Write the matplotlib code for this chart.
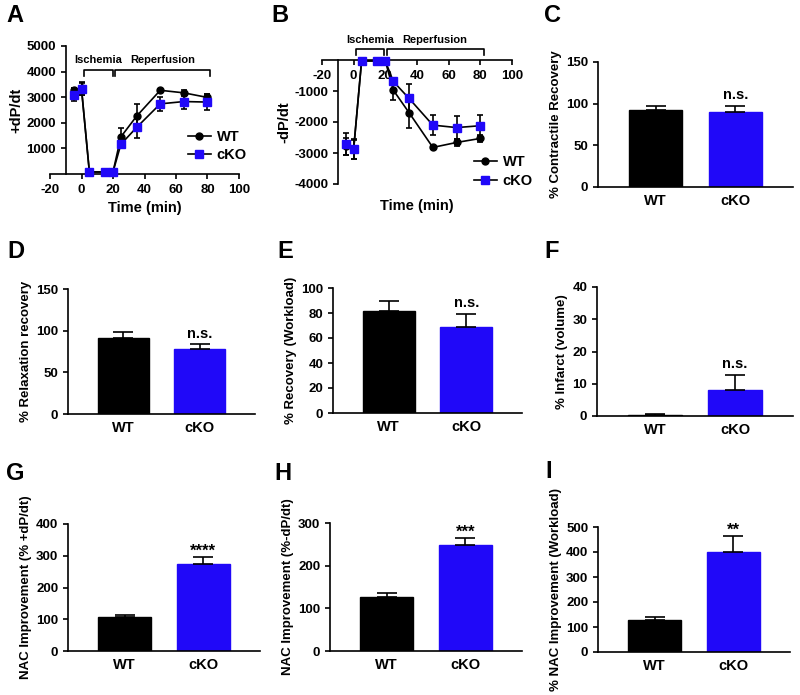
import matplotlib
matplotlib.use('Agg')
import matplotlib.pyplot as plt
from matplotlib.lines import Line2D
import numpy as np

plt.rcParams['font.family'] = ['Liberation Sans', 'DejaVu Sans']
plt.rcParams['font.weight'] = 'bold'
plt.rcParams['axes.labelweight'] = 'bold'
plt.rcParams['axes.unicode_minus'] = False
plt.rcParams['axes.linewidth'] = 1.2
plt.rcParams['xtick.major.width'] = 1.2
plt.rcParams['ytick.major.width'] = 1.2
plt.rcParams['xtick.major.size'] = 3.5
plt.rcParams['ytick.major.size'] = 3.5

BLUE = '#2008F8'

# Данные: время перфузии (мин) и dP/dt
time = [-5, 0, 5, 15, 20, 25, 35, 50, 65, 80]
a_wt = [3280, 3340, 80, 80, 80, 1450, 2260, 3270, 3170, 2990]
a_wt_err = [60, 240, 30, 30, 30, 330, 460, 60, 120, 120]
a_ko = [3100, 3320, 80, 80, 80, 1160, 1820, 2740, 2830, 2810]
a_ko_err = [250, 240, 30, 30, 30, 80, 400, 280, 310, 310]

b_wt = [-2790, -2860, -30, -30, -30, -970, -1700, -2820, -2660, -2530]
b_wt_err = [260, 320, 30, 30, 30, 320, 500, 60, 100, 100]
b_ko = [-2700, -2880, -30, -30, -30, -690, -1240, -2100, -2180, -2120]
b_ko_err = [350, 300, 30, 30, 30, 60, 450, 320, 370, 330]

# Столбчатые диаграммы
groups = ['WT', 'cKO']
c_vals, c_err = [92, 90], [5, 7]
d_vals, d_err = [91.5, 78], [6.5, 5.6]
e_vals, e_err = [82, 68.5], [7.5, 11]
f_vals, f_err = [0.3, 8.2], [0.2, 4.5]
g_vals, g_err = [107, 274], [7, 23]
h_vals, h_err = [127, 248], [9, 18]
i_vals, i_err = [128, 401], [13, 63]

W, H = 800, 695
fig = plt.figure(figsize=(W / 100, H / 100), dpi=100)


def rect(l, r, t, b):
    return [l / W, 1 - b / H, (r - l) / W, (b - t) / H]


def letter(x, y, s):
    fig.text(x / W, 1 - y / H, s, fontsize=17, fontweight='bold', ha='left', va='center')


def bracket(ax, x0, x1, y, drop, text, ty):
    ax.plot([x0, x0, x1, x1], [y - drop, y, y, y - drop], color='black', lw=1.2, clip_on=False)
    ax.text((x0 + x1) / 2, ty, text, ha='center', va='center', fontsize=8, fontweight='bold')


def line_panel(ax, wt, wt_err, ko, ko_err):
    ax.errorbar(time, wt, yerr=wt_err, color='black', marker='o', ms=5, lw=1.2,
                capsize=2.5, elinewidth=1.2, capthick=1.2, clip_on=False, zorder=3)
    ax.errorbar(time, ko, yerr=ko_err, color='black', marker='s', ms=5.5, mfc=BLUE, mec=BLUE,
                lw=1.2, capsize=2.5, elinewidth=1.2, capthick=1.2, clip_on=False, zorder=4)
    ax.spines['top'].set_visible(False)
    ax.spines['right'].set_visible(False)
    ax.spines['left'].set_position(('data', -10))
    ax.set_xlim(-20, 100)
    ax.set_xticks(np.arange(-20, 101, 20))
    ax.tick_params(labelsize=9.5)
    ax.set_xlabel('Time (min)', fontsize=10.5)


def line_legend(ax, anchor):
    handles = [Line2D([], [], color='black', marker='o', ms=5, lw=1.2),
               Line2D([], [], color='black', marker='s', ms=5.5, mfc=BLUE, mec=BLUE, lw=1.2)]
    ax.legend(handles, ['WT', 'cKO'], frameon=False, loc='center left', bbox_to_anchor=anchor,
              fontsize=10.5, handlelength=1.6, handletextpad=0.4, labelspacing=0.3, borderpad=0)


# A
ax = fig.add_axes(rect(50, 239, 46, 174))
line_panel(ax, a_wt, a_wt_err, a_ko, a_ko_err)
ax.set_ylim(0, 5000)
ax.set_yticks([1000, 2000, 3000, 4000, 5000])
ax.set_ylabel('+dP/dt', fontsize=10.5, labelpad=2)
bracket(ax, 1.7, 19.7, 4070, 230, 'Ischemia', 4450)
bracket(ax, 21.2, 81.8, 4070, 230, 'Reperfusion', 4450)
line_legend(ax, (0.69, 0.22))
letter(6, 15, 'A')

# B
ax = fig.add_axes(rect(322, 512, 60, 184))
line_panel(ax, b_wt, b_wt_err, b_ko, b_ko_err)
ax.set_ylim(-4000, 0)
ax.spines['bottom'].set_position(('data', 0))
ax.set_yticks([-1000, -2000, -3000, -4000])
ax.set_ylabel('-dP/dt', fontsize=10.5, labelpad=2)
ax.xaxis.set_label_coords(0.5, -0.12)
bracket(ax, 1.3, 19.0, 350, 190, 'Ischemia', 640)
bracket(ax, 20.8, 82.0, 350, 190, 'Reperfusion', 640)
line_legend(ax, (0.76, 0.10))
letter(271, 16, 'B')


def bar_panel(r, vals, errs, ymax, step, ylabel, sig, let, lpos):
    ax = fig.add_axes(rect(*r))
    x = np.arange(len(groups))
    ax.bar(x, vals, width=0.67, color=['black', BLUE], edgecolor=['black', BLUE], lw=1)
    ax.errorbar(x, vals, yerr=[[0, 0], errs], fmt='none', ecolor='black', elinewidth=1.2,
                capsize=7, capthick=1.2)
    ax.set_xlim(-0.72, 1.72)
    ax.set_ylim(0, ymax)
    ax.set_yticks(np.arange(0, ymax + 1, step))
    ax.set_xticks(x)
    ax.set_xticklabels(groups, fontsize=10.5)
    ax.tick_params(axis='x', length=0, pad=5)
    ax.tick_params(axis='y', labelsize=9.5)
    ax.spines['top'].set_visible(False)
    ax.spines['right'].set_visible(False)
    ax.set_ylabel(ylabel, fontsize=9.5, labelpad=3)
    top = vals[1] + errs[1]
    if sig == 'n.s.':
        ax.text(1, top + ymax * 0.03, sig, ha='center', va='bottom', fontsize=10.5)
    else:
        ax.text(1, top - ymax * 0.015, sig, ha='center', va='bottom', fontsize=12)
    letter(lpos[0], lpos[1], let)


bar_panel((598, 793, 62, 187), c_vals, c_err, 150, 50, '% Contractile Recovery', 'n.s.', 'C', (544, 16))
bar_panel((68, 255, 289, 414), d_vals, d_err, 150, 50, '% Relaxation recovery', 'n.s.', 'D', (7, 252))
bar_panel((333, 522, 288, 413), e_vals, e_err, 100, 20, '% Recovery (Workload)', 'n.s.', 'E', (277, 252))
bar_panel((597, 793, 287, 416), f_vals, f_err, 40, 10, '% Infarct (volume)', 'n.s.', 'F', (544, 252))
bar_panel((68, 260, 524, 651), g_vals, g_err, 400, 100, 'NAC Improvement (% +dP/dt)', '****', 'G', (6, 473))
bar_panel((330, 522, 523, 651), h_vals, h_err, 300, 100, 'NAC Improvement (%-dP/dt)', '***', 'H', (274, 473))
bar_panel((598, 790, 527, 652), i_vals, i_err, 500, 100, '% NAC Improvement (Workload)', '**', 'I', (545, 472))

fig.savefig('out.png', dpi=100)
